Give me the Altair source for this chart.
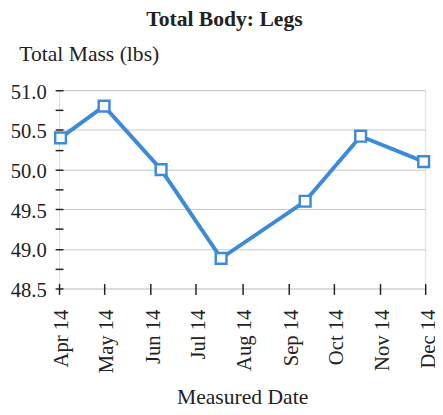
import altair as alt
import pandas as pd

dates = ["2014-04-02", "2014-05-01", "2014-06-08", "2014-07-18", "2014-09-12", "2014-10-19", "2014-11-30"]
mass = [50.4, 50.8, 50.0, 48.88, 49.6, 50.42, 50.1]
y_ticks = [48.5, 48.75, 49.0, 49.25, 49.5, 49.75, 50.0, 50.25, 50.5, 50.75, 51.0]
month_ticks = [(2014, m) for m in range(4, 13)]

df = pd.DataFrame({"date": dates, "mass": mass})

FONT = "Liberation Serif"
BLUE = "#3d8bd8"

x_enc = alt.X(
    "date:T",
    scale=alt.Scale(type="utc",
                    domain=[alt.DateTime(year=2014, month=4, date=1, utc=True),
                            alt.DateTime(year=2014, month=12, date=1, utc=True)]),
    axis=alt.Axis(
        values=[alt.DateTime(year=y, month=m, date=1, utc=True) for y, m in month_ticks],
        format="%b %y", labelAngle=-90, labelFont=FONT, labelFontSize=21,
        labelColor="#222", labelPadding=15, labelOffset=3,
        domain=False, offset=-5, tickSize=11, tickColor="#222", tickWidth=1.5,
        grid=False, title="Measured Date", titleFont=FONT, titleFontSize=22,
        titleFontWeight="normal", titleColor="#222", titleY=122,
        titleBaseline="alphabetic", labelBound=False, labelOverlap=False,
    ),
)
y_enc = alt.Y(
    "mass:Q",
    scale=alt.Scale(domain=[48.5, 51.0], nice=False, zero=False),
    axis=alt.Axis(
        values=y_ticks,
        labelExpr="(datum.value * 2) % 1 == 0 ? format(datum.value, '.1f') : ''",
        labelFont=FONT, labelFontSize=21, labelColor="#222", labelPadding=9,
        labelOffset=2,
        domain=False, offset=-4, tickSize=8, tickColor="#222", tickWidth=1.5,
        grid=True, gridColor="#c8c8c8", gridWidth=1,
        gridOpacity=alt.condition("(datum.value * 2) % 1 == 0", alt.value(1), alt.value(0)),
        title="Total Mass (lbs)", titleFont=FONT, titleFontSize=22,
        titleFontWeight="normal", titleColor="#222", titleAngle=0,
        titleX=-45, titleY=-30, titleAlign="left", titleBaseline="alphabetic",
        labelOverlap=False,
    ),
)

base = alt.Chart(df)
line = base.mark_line(color=BLUE, strokeWidth=4).encode(x=x_enc, y=y_enc)
pts = base.mark_point(shape="square", filled=True, fill="white", stroke=BLUE,
                      strokeWidth=2.5, size=120, opacity=1).encode(x=x_enc, y=y_enc)

chart = (line + pts).properties(
    width=373, height=202,
    title=alt.TitleParams("Total Body: Legs", font=FONT, fontSize=22,
                          fontWeight="bold", color="#222", anchor="middle",
                          dx=-18, offset=12),
    autosize=alt.AutoSizeParams(type="none"),
    padding={"left": 52, "top": 80, "right": 10, "bottom": 120},
).configure_view(stroke="#222", strokeWidth=1.5).configure(background="white")

chart.save("out.html", embed_options={"renderer": "svg", "actions": False})
